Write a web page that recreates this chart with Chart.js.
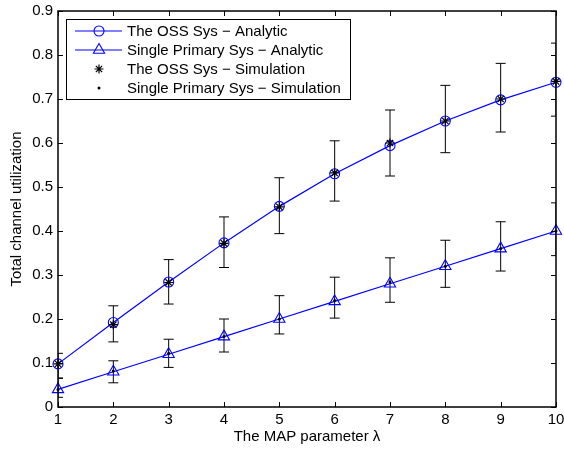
<!DOCTYPE html>
<html>
<head>
<meta charset="utf-8">
<script src="https://cdn.jsdelivr.net/npm/chart.js@4.4.0/dist/chart.umd.min.js"></script>
<style>
html, body { margin: 0; padding: 0; background: #fff; }
#wrap { width: 564px; height: 450px; }
</style>
</head>
<body>
<div id="wrap"><canvas id="chart" width="564" height="450"></canvas></div>
<script>
// MAP parameter lambda on the x axis
const lambdas = [1, 2, 3, 4, 5, 6, 7, 8, 9, 10];
const xTicks = [1, 2, 3, 4, 5, 6, 7, 8, 9, 10];
const yTicks = [0, 0.1, 0.2, 0.3, 0.4, 0.5, 0.6, 0.7, 0.8, 0.9];

// analytic curves
const ossAnalytic = [0.098, 0.192, 0.284, 0.373, 0.456, 0.530, 0.594, 0.650, 0.698, 0.738];
const singleAnalytic = [0.04, 0.08, 0.12, 0.16, 0.20, 0.24, 0.28, 0.32, 0.36, 0.40];

// simulation points + error bar limits
const ossSim = [0.098, 0.187, 0.283, 0.372, 0.455, 0.532, 0.600, 0.650, 0.700, 0.740];
const ossLow = [0.066, 0.148, 0.234, 0.317, 0.394, 0.468, 0.525, 0.578, 0.625, 0.661];
const ossHigh = [0.122, 0.230, 0.335, 0.432, 0.521, 0.605, 0.675, 0.731, 0.781, 0.827];

const singleSim = [0.040, 0.082, 0.122, 0.160, 0.200, 0.242, 0.284, 0.320, 0.360, 0.400];
const singleLow = [0.022, 0.055, 0.090, 0.125, 0.166, 0.202, 0.238, 0.272, 0.309, 0.344];
const singleHigh = [0.065, 0.105, 0.154, 0.200, 0.253, 0.295, 0.339, 0.379, 0.421, 0.464];

const FONT = 'Liberation Sans, Arial, Helvetica, sans-serif';
const toPts = vals => vals.map((v, i) => ({ x: lambdas[i], y: v }));

function markAt(ctx, opts, x, y) {
    if (Chart.helpers && Chart.helpers.drawPoint) {
        Chart.helpers.drawPoint(ctx, opts, x, y);
    } else {
        ctx.beginPath();
        ctx.arc(x, y, opts.radius, 0, Math.PI * 2);
        ctx.fill();
        ctx.stroke();
    }
}

const errorBars = {
    id: 'errorBars',
    beforeDatasetsDraw(chart) {
        const { ctx, chartArea, scales: { x, y } } = chart;
        ctx.save();
        ctx.beginPath();
        ctx.rect(chartArea.left, chartArea.top, chartArea.right - chartArea.left, chartArea.bottom - chartArea.top);
        ctx.clip();
        ctx.strokeStyle = '#000';
        ctx.lineWidth = 1;
        [[ossLow, ossHigh], [singleLow, singleHigh]].forEach(([lo, hi]) => {
            lambdas.forEach((l, i) => {
                const px = x.getPixelForValue(l);
                const yl = y.getPixelForValue(lo[i]);
                const yh = y.getPixelForValue(hi[i]);
                ctx.beginPath();
                ctx.moveTo(px, yl); ctx.lineTo(px, yh);
                ctx.moveTo(px - 5, yl); ctx.lineTo(px + 5, yl);
                ctx.moveTo(px - 5, yh); ctx.lineTo(px + 5, yh);
                ctx.stroke();
            });
        });
        ctx.restore();
    }
};

const boxFrame = {
    id: 'boxFrame',
    afterDatasetsDraw(chart) {
        const { ctx, chartArea: a, scales: { x, y } } = chart;
        ctx.save();
        ctx.strokeStyle = '#000';
        ctx.lineWidth = 1.5;
        ctx.strokeRect(a.left, a.top, a.right - a.left, a.bottom - a.top);
        ctx.lineWidth = 1;
        ctx.beginPath();
        xTicks.forEach(v => {
            const px = Math.round(x.getPixelForValue(v)) + 0.5;
            ctx.moveTo(px, a.bottom); ctx.lineTo(px, a.bottom - 5);
            ctx.moveTo(px, a.top); ctx.lineTo(px, a.top + 5);
        });
        yTicks.forEach(v => {
            const py = Math.round(y.getPixelForValue(v)) + 0.5;
            ctx.moveTo(a.left, py); ctx.lineTo(a.left + 5, py);
            ctx.moveTo(a.right, py); ctx.lineTo(a.right - 5, py);
        });
        ctx.stroke();
        ctx.restore();
    },
    afterDraw(chart) {
        // legend box in the upper left corner of the plot
        const ctx = chart.ctx;
        const bx = 66, by = 19, bw = 284, bh = 80, rowH = 19;
        ctx.save();
        ctx.fillStyle = '#fff';
        ctx.fillRect(bx, by, bw, bh);
        ctx.strokeStyle = '#000';
        ctx.lineWidth = 1;
        ctx.strokeRect(bx + 0.5, by + 0.5, bw, bh);
        chart.data.datasets.forEach((ds, i) => {
            const cy = by + 12 + i * rowH;
            if (ds.showLine !== false) {
                ctx.strokeStyle = ds.borderColor;
                ctx.lineWidth = 1.2;
                ctx.beginPath();
                ctx.moveTo(bx + 9, cy);
                ctx.lineTo(bx + 56, cy);
                ctx.stroke();
            }
            ctx.strokeStyle = ds.pointBorderColor;
            ctx.fillStyle = ds.pointBackgroundColor;
            ctx.lineWidth = ds.pointBorderWidth;
            markAt(ctx, { pointStyle: ds.pointStyle, radius: ds.pointRadius, rotation: 0, borderWidth: ds.pointBorderWidth }, bx + 33, cy);
            ctx.fillStyle = '#000';
            ctx.font = '15px ' + FONT;
            ctx.textBaseline = 'middle';
            ctx.fillText(ds.label, bx + 61, cy + 1);
        });
        ctx.restore();
    }
};

new Chart(document.getElementById('chart'), {
    type: 'scatter',
    data: {
        datasets: [
            {
                label: 'The OSS Sys \u2212 Analytic',
                data: toPts(ossAnalytic),
                showLine: true,
                borderColor: '#0000ff',
                borderWidth: 1.2,
                pointStyle: 'circle',
                pointRadius: 5,
                pointBorderColor: '#0000ff',
                pointBackgroundColor: 'rgba(0,0,0,0)',
                pointBorderWidth: 1.1,
                clip: false,
                order: 2
            },
            {
                label: 'Single Primary Sys \u2212 Analytic',
                data: toPts(singleAnalytic),
                showLine: true,
                borderColor: '#0000ff',
                borderWidth: 1.2,
                pointStyle: 'triangle',
                pointRadius: 6.5,
                pointBorderColor: '#0000ff',
                pointBackgroundColor: 'rgba(0,0,0,0)',
                pointBorderWidth: 1.1,
                clip: false,
                order: 2
            },
            {
                label: 'The OSS Sys \u2212 Simulation',
                data: toPts(ossSim),
                showLine: false,
                borderColor: '#000',
                pointStyle: 'star',
                pointRadius: 4.5,
                pointBorderColor: '#000',
                pointBackgroundColor: '#000',
                pointBorderWidth: 1.2,
                clip: false,
                order: 1
            },
            {
                label: 'Single Primary Sys \u2212 Simulation',
                data: toPts(singleSim),
                showLine: false,
                borderColor: '#000',
                pointStyle: 'circle',
                pointRadius: 1.5,
                pointBorderColor: '#000',
                pointBackgroundColor: '#000',
                pointBorderWidth: 0,
                clip: false,
                order: 1
            }
        ]
    },
    options: {
        responsive: false,
        animation: false,
        devicePixelRatio: 1,
        layout: { padding: { top: 11, right: 8, left: 0, bottom: 0 } },
        plugins: {
            legend: { display: false },
            tooltip: { enabled: false }
        },
        scales: {
            x: {
                type: 'linear',
                min: 1,
                max: 10,
                afterBuildTicks: s => { s.ticks = xTicks.map(v => ({ value: v })); },
                afterFit: s => { s.height = 43; s.paddingLeft = 0; s.paddingRight = 0; },
                grid: { display: false, drawTicks: false },
                border: { display: false },
                ticks: { color: '#000', font: { family: FONT, size: 15 }, padding: 4, maxRotation: 0, autoSkip: false },
                title: { display: true, text: 'The MAP parameter \u03bb', color: '#000', font: { family: FONT, size: 15 }, padding: { top: 0, bottom: 4 } }
            },
            y: {
                type: 'linear',
                min: 0,
                max: 0.9,
                afterBuildTicks: s => { s.ticks = yTicks.map(v => ({ value: v })); },
                afterFit: s => { s.width = 58; s.paddingTop = 0; s.paddingBottom = 0; },
                grid: { display: false, drawTicks: false },
                border: { display: false },
                ticks: { color: '#000', font: { family: FONT, size: 15 }, padding: 5, callback: v => String(+v.toFixed(1)) },
                title: { display: true, text: 'Total channel utilization', color: '#000', font: { family: FONT, size: 15 }, padding: { top: 8, bottom: 0 } }
            }
        }
    },
    plugins: [errorBars, boxFrame]
});
</script>
</body>
</html>
